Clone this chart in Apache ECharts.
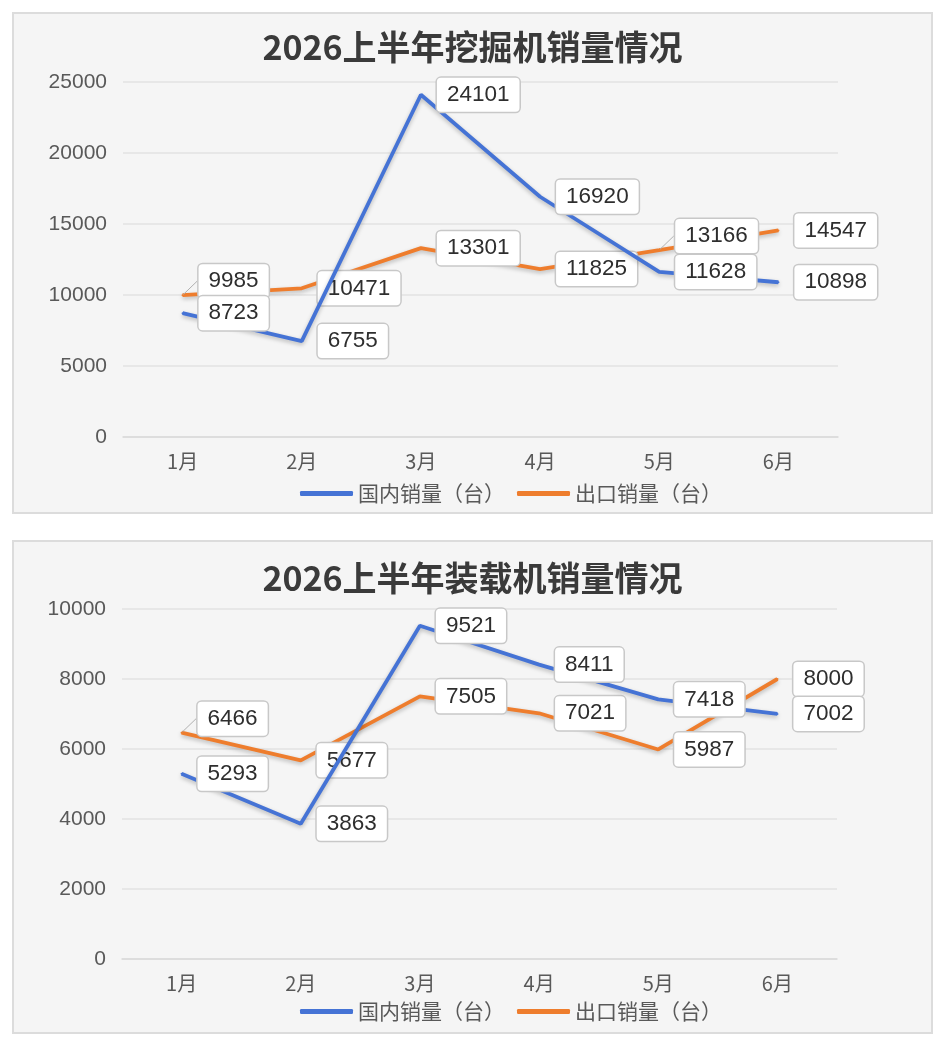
<!DOCTYPE html>
<html>
<head>
<meta charset="utf-8">
<script src="https://cdn.jsdelivr.net/npm/echarts@6/dist/echarts.min.js"></script>
<style>
  html, body { margin: 0; padding: 0; background: #fff; }
  .panel {
    position: absolute;
    left: 12px;
    width: 917px;
    background: #f5f5f5;
    border: 2px solid #dcdcdc;
  }
  .chart { width: 100%; height: 100%; }
</style>
</head>
<body>
<div class="panel" style="top:12px;height:498px"><div id="excavator" class="chart"></div></div>
<div class="panel" style="top:540px;height:490px"><div id="loader" class="chart"></div></div>
<script>
const months = ['1月', '2月', '3月', '4月', '5月', '6月'];
const seriesNames = ['国内销量（台）', '出口销量（台）'];

// 挖掘机
const excavatorDomestic = [8723, 6755, 24101, 16920, 11628, 10898];
const excavatorExport = [9985, 10471, 13301, 11825, 13166, 14547];
const excavatorTicks = { max: 25000, interval: 5000 };

// 装载机
const loaderDomestic = [5293, 3863, 9521, 8411, 7418, 7002];
const loaderExport = [6466, 5677, 7505, 7021, 5987, 8000];
const loaderTicks = { max: 10000, interval: 2000 };

const BLUE = '#4573d5';
const ORANGE = '#ee7d2d';
const FONT = '"Noto Sans CJK SC", "Noto Sans", sans-serif';
const NUM_FONT = '"Liberation Sans", Arial, sans-serif';

const labelStyle = {
  show: true,
  position: 'right',
  distance: 15,
  fontSize: 22.5,
  fontFamily: NUM_FONT,
  color: '#2e2e2e',
  backgroundColor: '#fff',
  borderColor: '#c8c8c8',
  borderWidth: 1.5,
  borderRadius: 4,
  padding: [6, 10, 5, 10],
};

// labels that Excel nudged upward get a small leader line
function lineSeries(name, color, values, movedIdx) {
  const data = values.map((v, i) =>
    movedIdx.indexOf(i) >= 0 ? { value: v, labelLine: { show: true } } : v
  );
  return {
    name,
    type: 'line',
    data,
    symbol: 'circle',
    symbolSize: 2,
    itemStyle: { color },
    lineStyle: {
      color,
      width: 3.8,
      shadowColor: 'rgba(0,0,0,0.25)',
      shadowBlur: 4,
      shadowOffsetY: 2,
    },
    label: labelStyle,
    labelLine: { show: false, lineStyle: { color: '#b0b0b0', width: 1 } },
    labelLayout: (p) => (movedIdx.indexOf(p.dataIndex) >= 0 ? { dy: -14 } : {}),
    z: color === BLUE ? 3 : 2,
  };
}

function buildOption(title, domestic, exported, ticks, layout, movedExport) {
  return {
    animation: false,
    textStyle: { fontFamily: FONT },
    title: {
      text: title,
      left: 'center',
      top: layout.titleTop,
      textStyle: { fontSize: 34, fontWeight: 'bold', color: '#3a3a3a', fontFamily: FONT },
    },
    legend: {
      data: seriesNames,
      bottom: layout.legendBottom,
      left: 281,
      icon: 'roundRect',
      itemWidth: 53,
      itemHeight: 5,
      itemGap: 12,
      textStyle: { fontSize: 21, color: '#595959', fontFamily: FONT },
    },
    grid: {
      left: layout.left,
      top: layout.top,
      width: 715,
      height: layout.height,
    },
    xAxis: {
      type: 'category',
      data: months,
      boundaryGap: true,
      axisLine: { lineStyle: { color: '#d9d9d9', width: 1.5 } },
      axisTick: { show: false },
      axisLabel: { fontSize: 20, color: '#595959', margin: 14, fontFamily: FONT },
    },
    yAxis: {
      type: 'value',
      min: 0,
      max: ticks.max,
      interval: ticks.interval,
      axisLine: { show: false },
      axisTick: { show: false },
      splitLine: { lineStyle: { color: '#e2e2e2', width: 1.5 } },
      axisLabel: {
        fontSize: 21,
        color: '#595959',
        margin: 16,
        fontFamily: NUM_FONT,
        formatter: (v) => String(v),
      },
    },
    series: [
      lineSeries(seriesNames[0], BLUE, domestic, []),
      lineSeries(seriesNames[1], ORANGE, exported, movedExport),
    ],
  };
}

const excavatorChart = echarts.init(document.getElementById('excavator'));
excavatorChart.setOption(buildOption(
  '2026上半年挖掘机销量情况',
  excavatorDomestic, excavatorExport, excavatorTicks,
  { titleTop: 11, legendBottom: 3, left: 109, top: 68, height: 355 },
  [0, 4]
));

const loaderChart = echarts.init(document.getElementById('loader'));
loaderChart.setOption(buildOption(
  '2026上半年装载机销量情况',
  loaderDomestic, loaderExport, loaderTicks,
  { titleTop: 14, legendBottom: 5, left: 108, top: 67, height: 350 },
  [0]
));
</script>
</body>
</html>
